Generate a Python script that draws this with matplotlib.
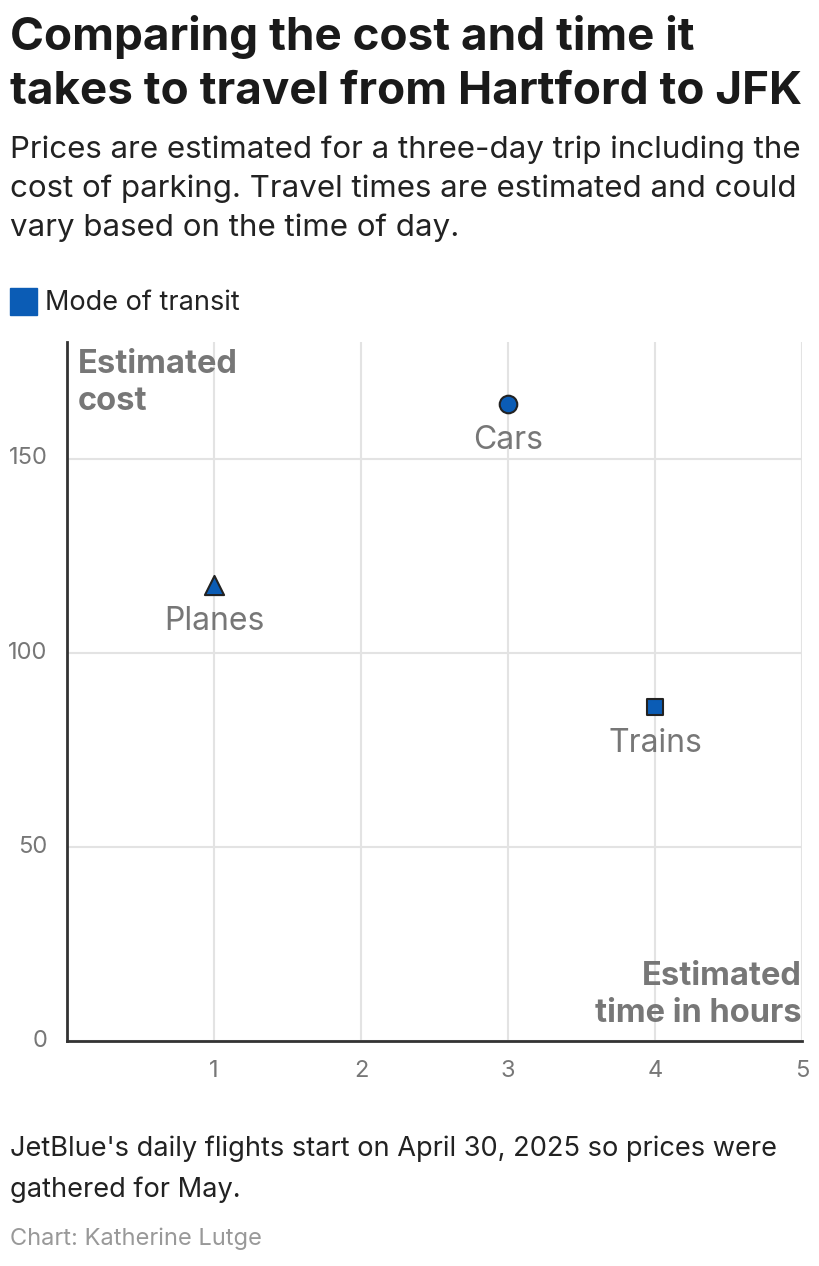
import matplotlib.pyplot as plt

plt.rcParams['font.family'] = ['Inter', 'DejaVu Sans']

# data
modes = ["Planes", "Cars", "Trains"]
hours = [1, 3, 4]
cost = [117.5, 164, 86]
markers = ["^", "o", "s"]
sizes = [190, 160, 120]

xticks = [1, 2, 3, 4, 5]
yticks = [0, 50, 100, 150]

blue = "#0b5cb5"
grey = "#777777"

fig = plt.figure(figsize=(8.2, 12.66), dpi=100)
ax = fig.add_axes([67/820, 1 - 1041/1266, (802-67)/820, (1041-342)/1266])

for m, x, y, mk, sz in zip(modes, hours, cost, markers, sizes):
	ax.scatter(x, y, marker=mk, s=sz, color=blue,
		edgecolor="#222222", linewidth=1.5, zorder=3)
	ax.annotate(m, (x, y), xytext=(0, -15), textcoords="offset points",
		ha="center", va="top", fontsize=23, color=grey)

ax.set_xlim(0, 5)
ax.set_ylim(0, 180)
ax.set_xticks(xticks)
ax.set_yticks(yticks)
ax.grid(color="#e3e3e3", linewidth=1.5)
ax.set_axisbelow(True)
for s in ["top", "right"]:
	ax.spines[s].set_visible(False)
for s in ["left", "bottom"]:
	ax.spines[s].set_color("#333333")
	ax.spines[s].set_linewidth(2)
ax.tick_params(length=0, labelsize=17, colors=grey, pad=14)
ax.tick_params(axis="y", pad=14)
for lbl in ax.get_yticklabels():
	lbl.set_verticalalignment("center")

ax.text(0.015, 0.99, "Estimated\ncost", transform=ax.transAxes, ha="left", va="top",
	fontsize=23.5, fontweight="bold", color=grey, linespacing=1.24)
ax.text(1.0, 0.017, "Estimated\ntime in hours", transform=ax.transAxes, ha="right", va="bottom",
	fontsize=23.5, fontweight="bold", color=grey, linespacing=1.24, multialignment="right")

fig.text(10/820, 1 - 15/1266, "Comparing the cost and time it\ntakes to travel from Hartford to JFK",
	ha="left", va="top", fontsize=33, fontweight="bold", color="#1a1a1a", linespacing=1.35)
fig.text(10/820, 1 - 135/1266, "Prices are estimated for a three-day trip including the\ncost of parking. Travel times are estimated and could\nvary based on the time of day.",
	ha="left", va="top", fontsize=22.5, color="#222222", linespacing=1.47)

fig.patches.append(plt.Rectangle((10/820, 1 - 315/1266), 27/820, 27/1266,
	transform=fig.transFigure, color=blue))
fig.text(45/820, 1 - 303/1266, "Mode of transit", ha="left", va="center",
	fontsize=19.5, color="#222222")

fig.text(10/820, 1 - 1136/1266, "JetBlue's daily flights start on April 30, 2025 so prices were\ngathered for May.",
	ha="left", va="top", fontsize=19.6, color="#222222", linespacing=1.68)
fig.text(10/820, 1 - 1227/1266, "Chart: Katherine Lutge", ha="left", va="top",
	fontsize=17, color="#999999")

fig.savefig("out.png", dpi=100)
